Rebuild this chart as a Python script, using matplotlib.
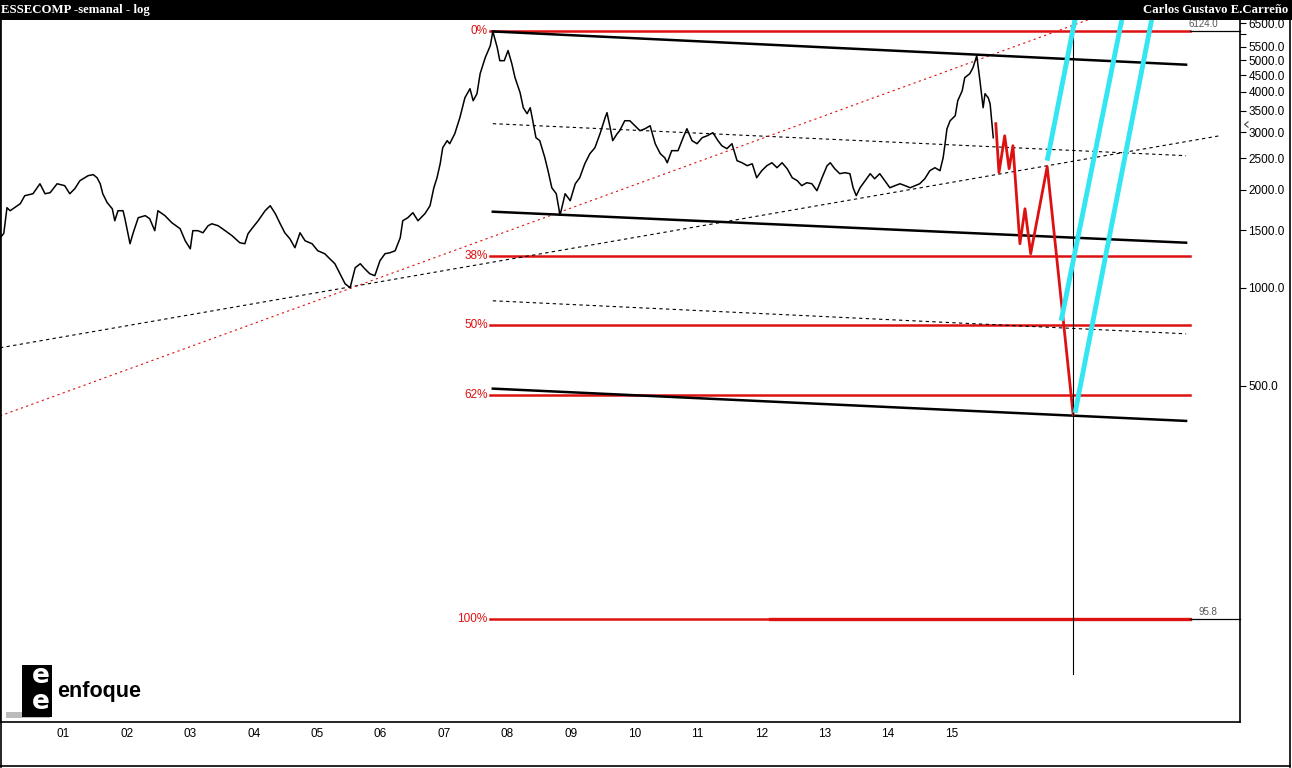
import numpy as np
import matplotlib
matplotlib.use("Agg")
import matplotlib.pyplot as plt
from matplotlib.ticker import FixedLocator, NullLocator, FixedFormatter
from matplotlib.patches import Rectangle

# ---------------- data ----------------
# weekly close, Shanghai composite, decimal year / index points
dates = [2000.00, 2000.06, 2000.11, 2000.16, 2000.32, 2000.39, 2000.52, 2000.63, 2000.71, 2000.79,
         2000.90, 2001.02, 2001.10, 2001.18, 2001.26, 2001.39, 2001.47, 2001.53, 2001.58, 2001.62,
         2001.69, 2001.77, 2001.81, 2001.86, 2001.94, 2001.97, 2002.05, 2002.10, 2002.18, 2002.29,
         2002.36, 2002.44, 2002.49, 2002.60, 2002.71, 2002.84, 2002.92, 2003.00, 2003.04, 2003.12,
         2003.20, 2003.28, 2003.34, 2003.44, 2003.55, 2003.66, 2003.78, 2003.86, 2003.91, 2003.97,
         2004.07, 2004.18, 2004.26, 2004.34, 2004.41, 2004.49, 2004.57, 2004.65, 2004.73, 2004.81,
         2004.92, 2005.01, 2005.12, 2005.20, 2005.28, 2005.36, 2005.44, 2005.52, 2005.60, 2005.68,
         2005.75, 2005.83, 2005.91, 2005.99, 2006.07, 2006.15, 2006.23, 2006.31, 2006.35, 2006.43,
         2006.51, 2006.59, 2006.70, 2006.78, 2006.84, 2006.89, 2006.94, 2006.98, 2007.05, 2007.09,
         2007.17, 2007.25, 2007.33, 2007.41, 2007.46, 2007.52, 2007.57, 2007.65, 2007.73, 2007.77,
         2007.84, 2007.88, 2007.95, 2008.01, 2008.07, 2008.12, 2008.20, 2008.25, 2008.31, 2008.36,
         2008.40, 2008.45, 2008.51, 2008.59, 2008.64, 2008.70, 2008.77, 2008.83, 2008.91, 2008.99,
         2009.07, 2009.14, 2009.22, 2009.30, 2009.38, 2009.46, 2009.54, 2009.57, 2009.62, 2009.66,
         2009.73, 2009.77, 2009.85, 2009.93, 2010.01, 2010.09, 2010.17, 2010.25, 2010.33, 2010.41,
         2010.48, 2010.52, 2010.59, 2010.69, 2010.77, 2010.83, 2010.91, 2010.99, 2011.07, 2011.15,
         2011.24, 2011.32, 2011.38, 2011.46, 2011.54, 2011.62, 2011.70, 2011.78, 2011.86, 2011.93,
         2012.01, 2012.09, 2012.17, 2012.25, 2012.33, 2012.41, 2012.49, 2012.57, 2012.64, 2012.72,
         2012.80, 2012.88, 2012.96, 2013.04, 2013.09, 2013.16, 2013.24, 2013.32, 2013.40, 2013.45,
         2013.50, 2013.56, 2013.64, 2013.72, 2013.79, 2013.87, 2013.95, 2014.03, 2014.11, 2014.19,
         2014.27, 2014.35, 2014.43, 2014.50, 2014.58, 2014.66, 2014.74, 2014.82, 2014.87, 2014.90,
         2014.93, 2014.98, 2015.06, 2015.10, 2015.17, 2015.21, 2015.29, 2015.34, 2015.40, 2015.45,
         2015.50, 2015.53, 2015.58, 2015.61, 2015.64, 2015.66]
closes = [1420, 1470, 1761, 1724, 1812, 1917, 1944, 2086, 1944, 1958,
          2086, 2058, 1944, 2015, 2132, 2209, 2225, 2177, 2086, 1944,
          1825, 1748, 1606, 1724, 1724, 1629, 1365, 1475, 1641, 1665,
          1629, 1497, 1724, 1665, 1583, 1518, 1394, 1317, 1497, 1497,
          1475, 1550, 1572, 1550, 1497, 1444, 1375, 1365, 1465, 1518,
          1606, 1724, 1786, 1689, 1583, 1475, 1414, 1327, 1475, 1394,
          1365, 1299, 1272, 1227, 1185, 1104, 1029, 1000, 1152, 1185,
          1144, 1104, 1089, 1210, 1272, 1281, 1299, 1424, 1606, 1641,
          1700, 1606, 1689, 1786, 2028, 2177, 2403, 2692, 2829, 2769,
          2971, 3327, 3833, 4085, 3752, 3943, 4544, 5087, 5537, 6124,
          5459, 4980, 4980, 5351, 4871, 4416, 3972, 3571, 3424, 3571,
          3257, 2889, 2829, 2508, 2288, 2028, 1944, 1670, 1944, 1851,
          2086, 2177, 2403, 2580, 2692, 2971, 3327, 3449, 3100, 2829,
          2971, 3035, 3257, 3257, 3144, 3035, 3078, 3144, 2769, 2580,
          2508, 2420, 2636, 2636, 2889, 3078, 2829, 2769, 2889, 2929,
          2993, 2829, 2730, 2673, 2769, 2456, 2420, 2370, 2403, 2177,
          2288, 2370, 2420, 2337, 2420, 2321, 2177, 2132, 2058, 2102,
          2086, 1986, 2177, 2370, 2420, 2321, 2240, 2256, 2240, 2028,
          1917, 2028, 2132, 2240, 2161, 2240, 2132, 2028, 2058, 2086,
          2058, 2028, 2058, 2086, 2161, 2288, 2337, 2288, 2508, 2769,
          3078, 3257, 3375, 3752, 4025, 4416, 4544, 4739, 5160, 4323,
          3571, 3943, 3833, 3675, 3190, 2889]

# projected path (red zig-zag)
proj_dates = [2015.70, 2015.75, 2015.84, 2015.91, 2015.97, 2016.08, 2016.16, 2016.25, 2016.51, 2016.92]
proj_vals = [3190, 2256, 2929, 2321, 2730, 1365, 1748, 1272, 2354, 407]

# fibonacci retracement
fib_labels = ["0%", "38%", "50%", "62%", "100%"]
fib_levels = [6124, 1250, 766, 469, 95.8]
fib_start, fib_end = 2007.73, 2018.76

# channel lines (black solid) : (x0, y0, x1, y1)
channels = [(2007.77, 6124, 2018.70, 4841),
            (2007.77, 1712, 2018.70, 1375),
            (2007.77, 490, 2018.70, 390)]
# dashed trend lines
dashed_black = [(2000.00, 654, 2019.23, 2929),
                (2007.77, 3190, 2018.70, 2544),
                (2007.77, 912, 2018.70, 722)]
dashed_red = (2000.00, 404, 2017.20, 6700)
# cyan rebound lines
cyan = [(2016.51, 2456, 2016.95, 6700),
        (2016.73, 792, 2017.69, 6700),
        (2016.95, 413, 2018.16, 6700)]
vline_x, vline_lo, vline_hi = 2016.92, 65, 6385

years = list(range(2001, 2016))
year_labels = ["%02d" % (y - 2000) for y in years]
ytick_vals = [500, 1000, 1500, 2000, 2500, 3000, 3500, 4000, 4500, 5000, 5500, 6000, 6500]
ytick_labels = ["%.1f" % v if v != 6000 else "" for v in ytick_vals]

W, H = 1292, 768
RED = "#dd1111"
CYAN = "#33e6f2"

fig = plt.figure(figsize=(W / 100, H / 100), dpi=100)
fig.patch.set_facecolor("white")


def fx(px):
    return px / W


def fy(py):
    return 1 - py / H


ax = fig.add_axes([0, fy(722), fx(1240), (722 - 20) / H])
ax.set_yscale("log")
ax.set_xlim(2000.0, 2019.55)
ax.set_ylim(46.4, 6640)

# price
ax.plot(dates, closes, color="black", lw=1.1, zorder=3)
ax.plot(proj_dates, proj_vals, color=RED, lw=2.0, zorder=4)

# fib lines + labels
for lab, lev in zip(fib_labels, fib_levels):
    ax.plot([fib_start, fib_end], [lev, lev], color=RED, lw=1.8, zorder=2)
    ax.text(fib_start - 0.04, lev, lab, color=RED, fontsize=8.5, ha="right", va="center",
            family="Liberation Sans")
ax.plot([2012.14, fib_end], [fib_levels[-1], fib_levels[-1]], color=RED, lw=2.4, zorder=2)

for x0, y0, x1, y1 in channels:
    ax.plot([x0, x1], [y0, y1], color="black", lw=1.8, zorder=3)
for x0, y0, x1, y1 in dashed_black:
    ax.plot([x0, x1], [y0, y1], color="black", lw=0.8, ls=(0, (3, 3)), zorder=2)
x0, y0, x1, y1 = dashed_red
ax.plot([x0, x1], [y0, y1], color=RED, lw=0.8, ls=(0, (2, 3)), zorder=2)
for x0, y0, x1, y1 in cyan:
    ax.plot([x0, x1], [y0, y1], color=CYAN, lw=3.5, zorder=5, solid_capstyle="butt")
ax.plot([vline_x, vline_x], [vline_lo, vline_hi], color="black", lw=0.8, zorder=4)

# right-side markers for the extremes
for lev, txt in [(6124, "6124.0"), (95.8, "95.8")]:
    ax.plot([fib_end, 2019.55], [lev, lev], color="black", lw=0.9, zorder=2, clip_on=False)
    ax.annotate(txt, (2019.2, lev), xytext=(0, 1.5), textcoords="offset points",
                ha="right", va="bottom", fontsize=7, color="#555555", family="Liberation Sans")
ax.plot([2019.62], [3190], marker=4, ms=4, mfc="white", mec="#444444", mew=0.8,
        clip_on=False, zorder=6)

# axes styling
ax.yaxis.tick_right()
ax.yaxis.set_major_locator(FixedLocator(ytick_vals))
ax.yaxis.set_major_formatter(FixedFormatter(ytick_labels))
ax.yaxis.set_minor_locator(NullLocator())
ax.tick_params(axis="y", direction="out", length=4, width=0.8, pad=2, labelsize=8.5,
               labelfontfamily="Liberation Sans")
ax.set_xticks(years)
ax.set_xticklabels(year_labels)
ax.xaxis.set_minor_locator(NullLocator())
ax.tick_params(axis="x", length=0, pad=4, labelsize=8.5, labelfontfamily="Liberation Sans")
ax.spines["top"].set_visible(False)
for s in ["left", "bottom", "right"]:
    ax.spines[s].set_linewidth(1.2)

# title bar
fig.patches.append(Rectangle((0, fy(20)), 1, 20 / H, transform=fig.transFigure,
                             facecolor="black", edgecolor="none", zorder=10))
fig.text(fx(1), fy(10), "ESSECOMP -semanal - log", color="white", fontsize=9.2,
         fontweight="bold", family="Liberation Serif", ha="left", va="center", zorder=11)
fig.text(fx(1288), fy(10), "Carlos Gustavo E.Carreño", color="white", fontsize=9.2,
         fontweight="bold", family="Liberation Serif", ha="right", va="center", zorder=11)

# outer frame
fig.add_artist(plt.Line2D([fx(1290), fx(1290)], [fy(20), fy(767)], color="black", lw=1.2))
fig.add_artist(plt.Line2D([0, fx(1290)], [fy(766), fy(766)], color="black", lw=1.2))
fig.add_artist(plt.Line2D([fx(0.5), fx(0.5)], [fy(20), fy(767)], color="black", lw=1.2))

# logo
fig.patches.append(Rectangle((fx(6), fy(718)), 44 / W, 6 / H, transform=fig.transFigure,
                             facecolor="#bbbbbb", edgecolor="none", zorder=8))
fig.patches.append(Rectangle((fx(22), fy(717)), 30 / W, 52 / H, transform=fig.transFigure,
                             facecolor="black", edgecolor="none", zorder=9))
fig.text(fx(41), fy(676), "e", color="white", fontsize=19, fontweight="bold",
         family="DejaVu Sans", ha="center", va="center", zorder=10)
fig.text(fx(41), fy(702), "e", color="white", fontsize=19, fontweight="bold",
         family="DejaVu Sans", ha="center", va="center", zorder=10)
fig.text(fx(57), fy(691), "enfoque", color="black", fontsize=15.5, fontweight="bold",
         family="Liberation Sans", ha="left", va="center", zorder=10)

fig.savefig("out.png", dpi=100)
